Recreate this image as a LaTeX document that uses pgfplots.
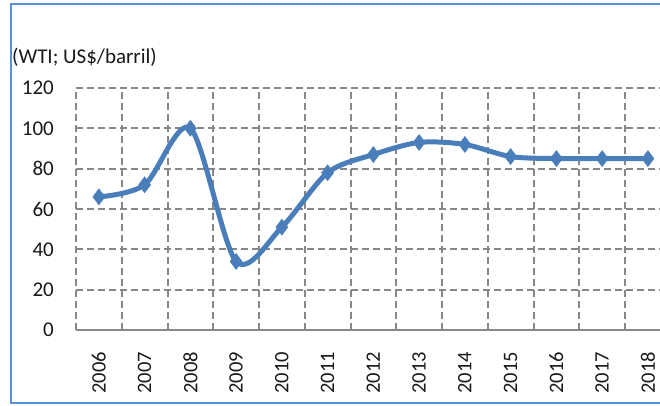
\documentclass[border=0pt]{standalone}
\usepackage{pgfplots}
\pgfplotsset{compat=1.18}
\usepackage{fontspec}
\setmainfont{Carlito}
\definecolor{lineblue}{RGB}{74,126,187}
\definecolor{frameblue}{RGB}{91,143,214}
\definecolor{gridgray}{RGB}{135,135,135}
\definecolor{txt}{RGB}{25,25,25}
\begin{document}
\begin{tikzpicture}[x=1pt,y=1pt]
\path[use as bounding box] (0,0) rectangle (660,406);
\clip (0,0) rectangle (660,406);
\fill[white] (0,0) rectangle (660,406);
\draw[frameblue, line width=2pt] (10.5,3) rectangle (700,402);
\node[anchor=west, inner sep=0pt, text=txt, font=\fontsize{21}{24}\selectfont] at (12,349) {(WTI; US\$/barril)};
\begin{axis}[
  at={(76pt,76pt)}, anchor=south west,
  scale only axis, width=594.75pt, height=242pt,
  xmin=-0.5, xmax=12.5, ymin=0, ymax=120,
  xtick={0,...,12},
  xticklabels={2006,2007,2008,2009,2010,2011,2012,2013,2014,2015,2016,2017,2018},
  minor xtick={-0.5,0.5,...,12.5},
  ytick={0,20,...,120},
  xminorgrids=true, ymajorgrids=true,
  grid style={gridgray, line width=2pt, dash pattern=on 7pt off 4pt},
  minor grid style={gridgray, line width=2pt, dash pattern=on 7pt off 4pt},
  major tick length=0pt, minor tick length=0pt,
  axis x line*=bottom, axis y line*=left,
  x axis line style={gridgray, line width=2.5pt, -},
  y axis line style={draw=none},
  /pgf/number format/assume math mode=true,
  tick label style={text=txt},
  yticklabel style={font=\fontsize{21}{24}\selectfont, anchor=east, inner sep=0pt, xshift=-22pt},
  xticklabel style={font=\fontsize{20.5}{24}\selectfont, rotate=90, anchor=east, inner sep=0pt, xshift=-22pt},
  clip=false,
]
\addplot[lineblue, line width=5pt, smooth, tension=0.5,
  mark=diamond*, mark size=8pt, mark options={solid, fill=lineblue, draw=lineblue, line width=0.5pt}]
  coordinates {(0,66) (1,72) (2,100) (3,34) (4,51) (5,78) (6,87) (7,93) (8,92) (9,86) (10,85) (11,85) (12,85)};
\end{axis}
\end{tikzpicture}
\end{document}
